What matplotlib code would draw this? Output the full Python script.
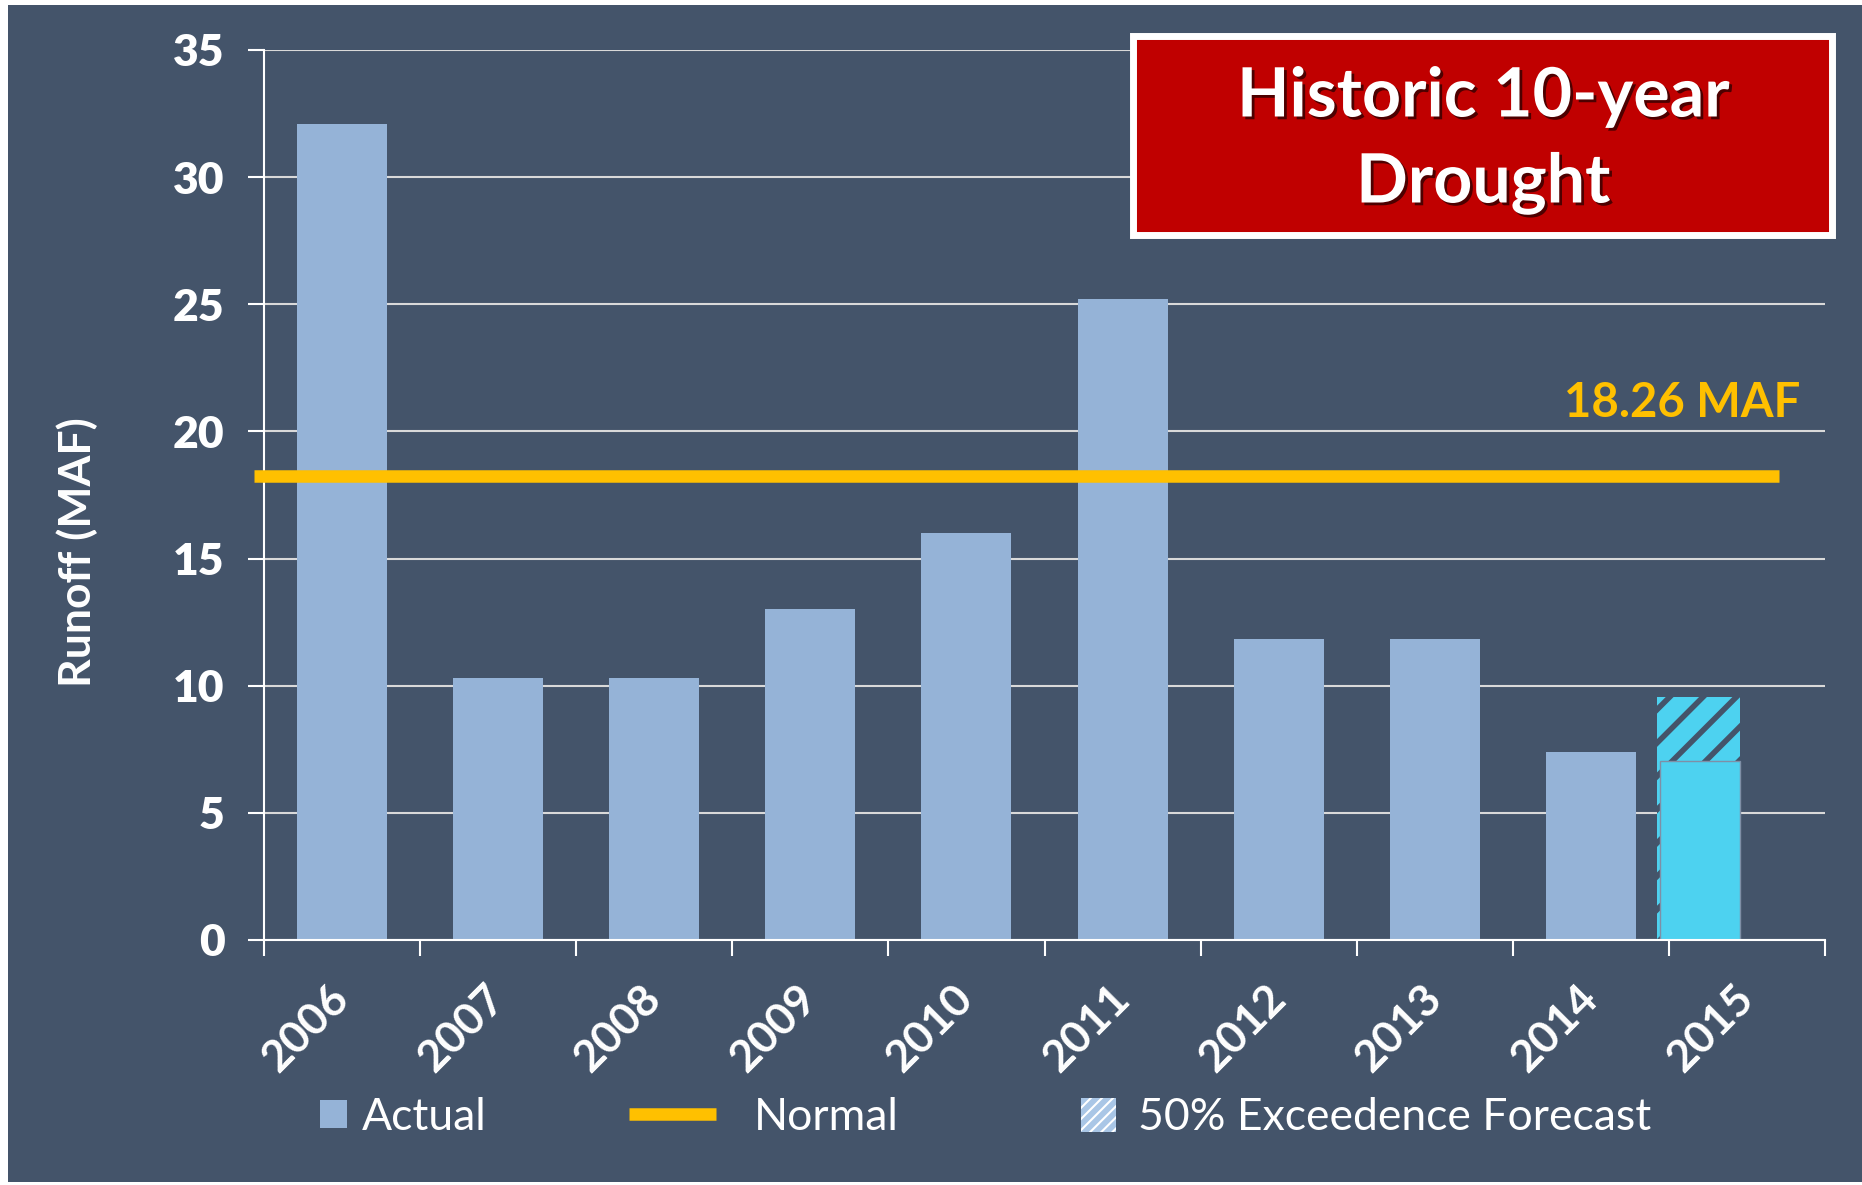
import matplotlib
matplotlib.use("Agg")
import matplotlib.pyplot as plt
from matplotlib.patches import Rectangle, Patch
from matplotlib.lines import Line2D
import matplotlib.patheffects as pe

# ---- data ----
years = ['2006', '2007', '2008', '2009', '2010', '2011', '2012', '2013', '2014', '2015']
actual = [32.1, 10.3, 10.3, 13.0, 16.0, 25.2, 11.85, 11.85, 7.4, 7.05]
forecast_2015 = 9.55
normal_value = 18.26
yticks = [0, 5, 10, 15, 20, 25, 30, 35]

# ---- style ----
BG = '#44546A'
BAR = '#95B3D7'
CYAN = '#4DD2F0'
GOLD = '#FFC000'
RED = '#C00000'
GRID = '#D9D9D9'
FONT = 'Lato'

plt.rcParams['font.family'] = [FONT, 'DejaVu Sans']
plt.rcParams['hatch.linewidth'] = 4.0

W, H = 1862, 1185
fig = plt.figure(figsize=(W / 100, H / 100), dpi=100, facecolor='white')
# dark panel with thin white margin
fig.patches.append(Rectangle((8 / W, 3 / H), 1 - 8 / W, 1 - 8 / H,
                             transform=fig.transFigure, facecolor=BG,
                             edgecolor='none', zorder=-10))

ax = fig.add_axes([264 / W, 1 - 940 / H, (1825 - 264) / W, 890 / H])
ax.set_zorder(1)
ax.set_facecolor('none')
ax.set_xlim(-0.5, 9.5)
ax.set_ylim(0, 35)

# gridlines
ax.set_yticks(yticks)
ax.yaxis.grid(True, color=GRID, linewidth=1.5, zorder=0)
ax.set_axisbelow(True)

# bars (2006-2014 actual)
n_hist = len(years) - 1
ax.bar(range(n_hist), actual[:n_hist], width=0.577, color=BAR, zorder=2)

# 2015: forecast (hatched) behind, actual-to-date (solid) in front
x15 = len(years) - 1
right_edge = x15 - 0.045
ax.bar(right_edge, forecast_2015, width=-0.532, align='edge',
       facecolor=CYAN, edgecolor=BG, hatch='/', linewidth=0, zorder=2)
ax.bar(right_edge, actual[-1], width=-0.513, align='edge',
       facecolor=CYAN, edgecolor='#7F8FA6', linewidth=1.0, zorder=3)

# normal line
ax.plot([-0.564, 9.205], [normal_value, normal_value], color=GOLD,
        linewidth=9, solid_capstyle='butt', zorder=4, clip_on=False)
ax.text(9.34, 21.1, f'{normal_value:.2f} MAF', color=GOLD, fontsize=34,
        fontweight='bold', ha='right', va='center', zorder=5)

# spines
for s in ['top', 'right']:
    ax.spines[s].set_visible(False)
for s in ['left', 'bottom']:
    ax.spines[s].set_color('white')
    ax.spines[s].set_linewidth(1.5)
    ax.spines[s].set_zorder(3)

# y ticks
ax.tick_params(axis='y', length=11.5, width=1.5, color='white',
               labelsize=32, labelcolor='white', pad=17)
for lbl in ax.get_yticklabels():
    lbl.set_fontweight('heavy')

# x ticks: labels at centers, marks at boundaries
ax.set_xticks(range(len(years)))
ax.set_xticklabels(years, rotation=45, ha='right', va='center',
                   rotation_mode='anchor', fontsize=32, fontweight='bold',
                   color='white')
ax.tick_params(axis='x', which='major', length=0, pad=37)
ax.set_xticks([i - 0.5 for i in range(len(years) + 1)], minor=True)
ax.tick_params(axis='x', which='minor', length=11.5, width=1.5, color='white')

# y label
fig.text(77 / W, 1 - 552 / H, 'Runoff (MAF)', rotation=90, color='white',
         fontsize=32, fontweight='bold', ha='center', va='center')

# title box
fig.patches.append(Rectangle((1133 / W, 1 - 235 / H), (1832 - 1133) / W, (235 - 36) / H,
                             transform=fig.transFigure, facecolor=RED,
                             edgecolor='white', linewidth=5, zorder=5))
shadow = [pe.SimplePatchShadow(offset=(2, -2), shadow_rgbFace='black', alpha=0.6), pe.Normal()]
fig.text(1483 / W, 1 - 97 / H, 'Historic 10-year', color='white', fontsize=49,
         fontweight='bold', ha='center', va='center', zorder=6, path_effects=shadow)
fig.text(1483 / W, 1 - 184 / H, 'Drought', color='white', fontsize=49,
         fontweight='bold', ha='center', va='center', zorder=6, path_effects=shadow)

# legend (three separate entries)
fs = 32
h_actual = Patch(facecolor=BAR, edgecolor='none')
h_normal = Line2D([0], [0], color=GOLD, linewidth=9, solid_capstyle='butt')
h_fc = Patch(facecolor='#A9C6E6', edgecolor='white', hatch='///', linewidth=0)

common = dict(frameon=False, loc='center left', borderpad=0, borderaxespad=0,
              fontsize=fs, labelcolor='white')
leg1 = fig.legend([h_actual], ['Actual'], bbox_to_anchor=(320 / W, 1 - 1117 / H),
                  handlelength=0.6, handleheight=0.6, handletextpad=0.34, **common)
leg2 = fig.legend([h_normal], ['Normal'], bbox_to_anchor=(629 / W, 1 - 1117 / H),
                  handlelength=1.95, handletextpad=0.87, **common)
leg3 = fig.legend([h_fc], ['50% Exceedence Forecast'], bbox_to_anchor=(1081 / W, 1 - 1118 / H),
                  handlelength=0.78, handleheight=0.78, handletextpad=0.5, **common)
for leg in (leg3,):
    for hp in leg.legend_handles:
        if hasattr(hp, 'set_hatch_linewidth'):
            hp.set_hatch_linewidth(1.5)

fig.savefig('out.png', dpi=100, facecolor=fig.get_facecolor())
